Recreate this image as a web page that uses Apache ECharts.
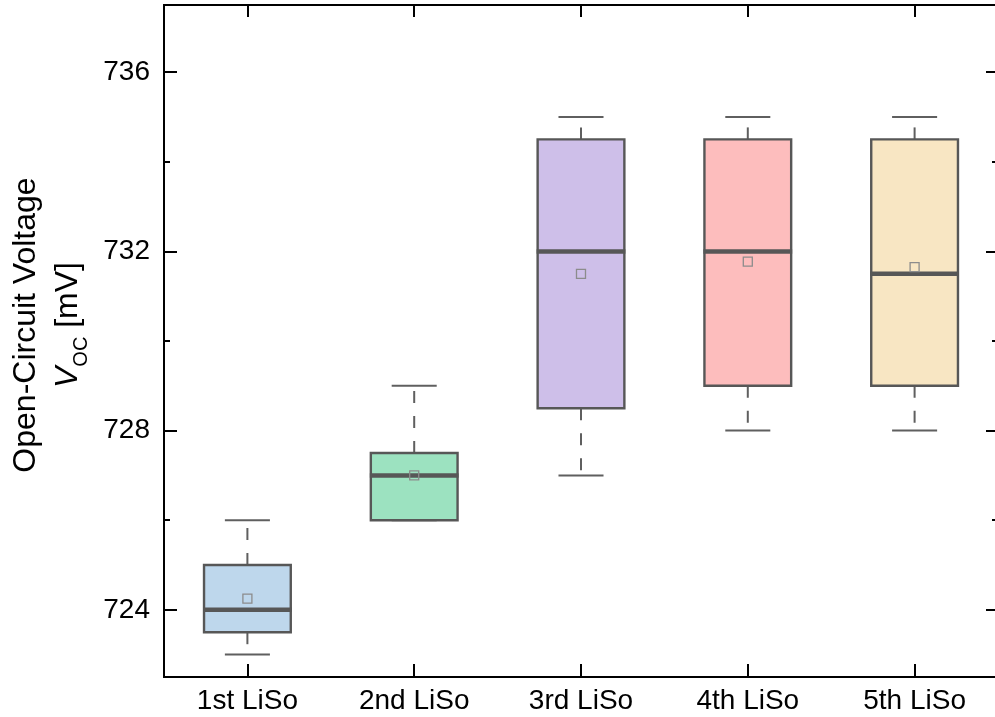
<!DOCTYPE html>
<html>
<head>
<meta charset="utf-8">
<title>Open-Circuit Voltage</title>
<script src="https://cdn.jsdelivr.net/npm/echarts@6/dist/echarts.min.js"></script>
<style>
  html, body { margin: 0; padding: 0; background: #fff; }
  #chart { width: 995px; height: 717px; }
</style>
</head>
<body>
<div id="chart"></div>
<script>
// Open-circuit voltage statistics for each LiSo run (mV)
var categories = ['1st LiSo', '2nd LiSo', '3rd LiSo', '4th LiSo', '5th LiSo'];
var minVals    = [723,   726,   727,   728,   728];
var q1Vals     = [723.5, 726,   728.5, 729,   729];
var medianVals = [724,   727,   732,   732,   731.5];
var q3Vals     = [725,   727.5, 734.5, 734.5, 734.5];
var maxVals    = [726,   729,   735,   735,   735];
var meanVals   = [724.25, 727.0, 731.5, 731.77, 731.65];
var majorTicks = [724, 728, 732, 736];
var minorTicks = [726, 730, 734];

var boxFills = ['#bed7ec', '#9ce2c0', '#cebfe9', '#fdbdbd', '#f8e6c3'];
var FONT = '"Liberation Sans", Arial, Helvetica, sans-serif';

var rows = categories.map(function (c, i) {
  return [i, minVals[i], q1Vals[i], medianVals[i], q3Vals[i], maxVals[i], meanVals[i]];
});

function renderBox(params, api) {
  var idx = api.value(0);
  var band = api.size([1, 0])[0];
  var boxW = band * 0.52;
  var capW = band * 0.27;
  var pMin = api.coord([idx, api.value(1)]);
  var pQ1 = api.coord([idx, api.value(2)]);
  var pMed = api.coord([idx, api.value(3)]);
  var pQ3 = api.coord([idx, api.value(4)]);
  var pMax = api.coord([idx, api.value(5)]);
  var pMean = api.coord([idx, api.value(6)]);
  var cx = pMed[0];
  var stroke = '#575757';
  var whisk = '#5f5f5f';
  var children = [];
  // whiskers (dashed, starting at box edge)
  children.push({
    type: 'line',
    shape: { x1: cx, y1: pQ3[1], x2: cx, y2: pMax[1] },
    style: { stroke: whisk, lineWidth: 2, lineDash: [12, 13] }
  });
  children.push({
    type: 'line',
    shape: { x1: cx, y1: pQ1[1], x2: cx, y2: pMin[1] },
    style: { stroke: whisk, lineWidth: 2, lineDash: [12, 13] }
  });
  // caps
  children.push({
    type: 'line',
    shape: { x1: cx - capW / 2, y1: pMax[1], x2: cx + capW / 2, y2: pMax[1] },
    style: { stroke: whisk, lineWidth: 2 }
  });
  children.push({
    type: 'line',
    shape: { x1: cx - capW / 2, y1: pMin[1], x2: cx + capW / 2, y2: pMin[1] },
    style: { stroke: whisk, lineWidth: 2 }
  });
  // box
  children.push({
    type: 'rect',
    shape: { x: cx - boxW / 2, y: pQ3[1], width: boxW, height: pQ1[1] - pQ3[1] },
    style: { fill: boxFills[idx], stroke: stroke, lineWidth: 2.4 }
  });
  // median
  children.push({
    type: 'line',
    shape: { x1: cx - boxW / 2 - 1, y1: pMed[1], x2: cx + boxW / 2 + 1, y2: pMed[1] },
    style: { stroke: stroke, lineWidth: 4.5 }
  });
  // mean marker
  children.push({
    type: 'rect',
    shape: { x: pMean[0] - 4.5, y: pMean[1] - 4.5, width: 9, height: 9 },
    style: { fill: 'none', stroke: '#8c8c8c', lineWidth: 1.3 }
  });
  return { type: 'group', children: children };
}

var axisLineStyle = { color: '#000', width: 2 };

function yAxisDef(position, ticks, len, showLabel) {
  return {
    type: 'value',
    position: position,
    offset: 0,
    min: 722.5,
    max: 737.5,
    splitLine: { show: false },
    axisLine: { show: true, lineStyle: axisLineStyle },
    axisTick: {
      show: true, inside: true, length: len,
      customValues: ticks,
      lineStyle: { color: '#000', width: 2 }
    },
    axisLabel: {
      show: showLabel,
      customValues: majorTicks,
      margin: 14,
      fontSize: 28,
      color: '#000',
      fontFamily: FONT
    }
  };
}

var leftMajor = yAxisDef('left', majorTicks, 13, true);
leftMajor.name = '{t|Open-Circuit Voltage}\n{v|V}{s|OC}{t| [mV]}';
leftMajor.nameLocation = 'middle';
leftMajor.nameGap = 75;
leftMajor.nameRotate = 90;
leftMajor.nameTextStyle = {
  fontFamily: FONT,
  color: '#000',
  lineHeight: 42,
  padding: [0, 0, 0, 32],
  rich: {
    t: { fontSize: 32, fontFamily: FONT, color: '#000', lineHeight: 42 },
    v: { fontSize: 32, fontFamily: FONT, fontStyle: 'italic', color: '#000', lineHeight: 42 },
    s: { fontSize: 20, fontFamily: FONT, color: '#000', lineHeight: 42, verticalAlign: 'bottom', padding: [0, 0, -2, 0] }
  }
};

var option = {
  animation: false,
  backgroundColor: '#fff',
  grid: { left: 164, top: 5, width: 834, bottom: 40, containLabel: false, outerBoundsMode: 'none' },
  xAxis: [
    {
      type: 'category',
      position: 'bottom',
      data: categories,
      boundaryGap: true,
      axisLine: { show: true, lineStyle: axisLineStyle },
      axisTick: { show: true, inside: true, length: 13, alignWithLabel: true, lineStyle: { color: '#000', width: 2 } },
      axisLabel: { fontSize: 28, color: '#000', margin: 10, fontFamily: FONT, interval: 0 },
      splitLine: { show: false }
    },
    {
      type: 'category',
      position: 'top',
      data: categories,
      boundaryGap: true,
      axisLine: { show: true, lineStyle: axisLineStyle },
      axisTick: { show: true, inside: true, length: 12, alignWithLabel: true, lineStyle: { color: '#000', width: 2 } },
      axisLabel: { show: false },
      splitLine: { show: false }
    }
  ],
  yAxis: [
    leftMajor,
    yAxisDef('left', minorTicks, 6, false),
    yAxisDef('right', majorTicks, 12, false),
    yAxisDef('right', minorTicks, 6, false)
  ],
  series: [
    {
      type: 'custom',
      xAxisIndex: 0,
      yAxisIndex: 0,
      renderItem: renderBox,
      encode: { x: 0, y: [1, 2, 3, 4, 5, 6] },
      data: rows,
      clip: false
    }
  ]
};

var chart = echarts.init(document.getElementById('chart'), null, { renderer: 'canvas' });
chart.setOption(option);
</script>
</body>
</html>
